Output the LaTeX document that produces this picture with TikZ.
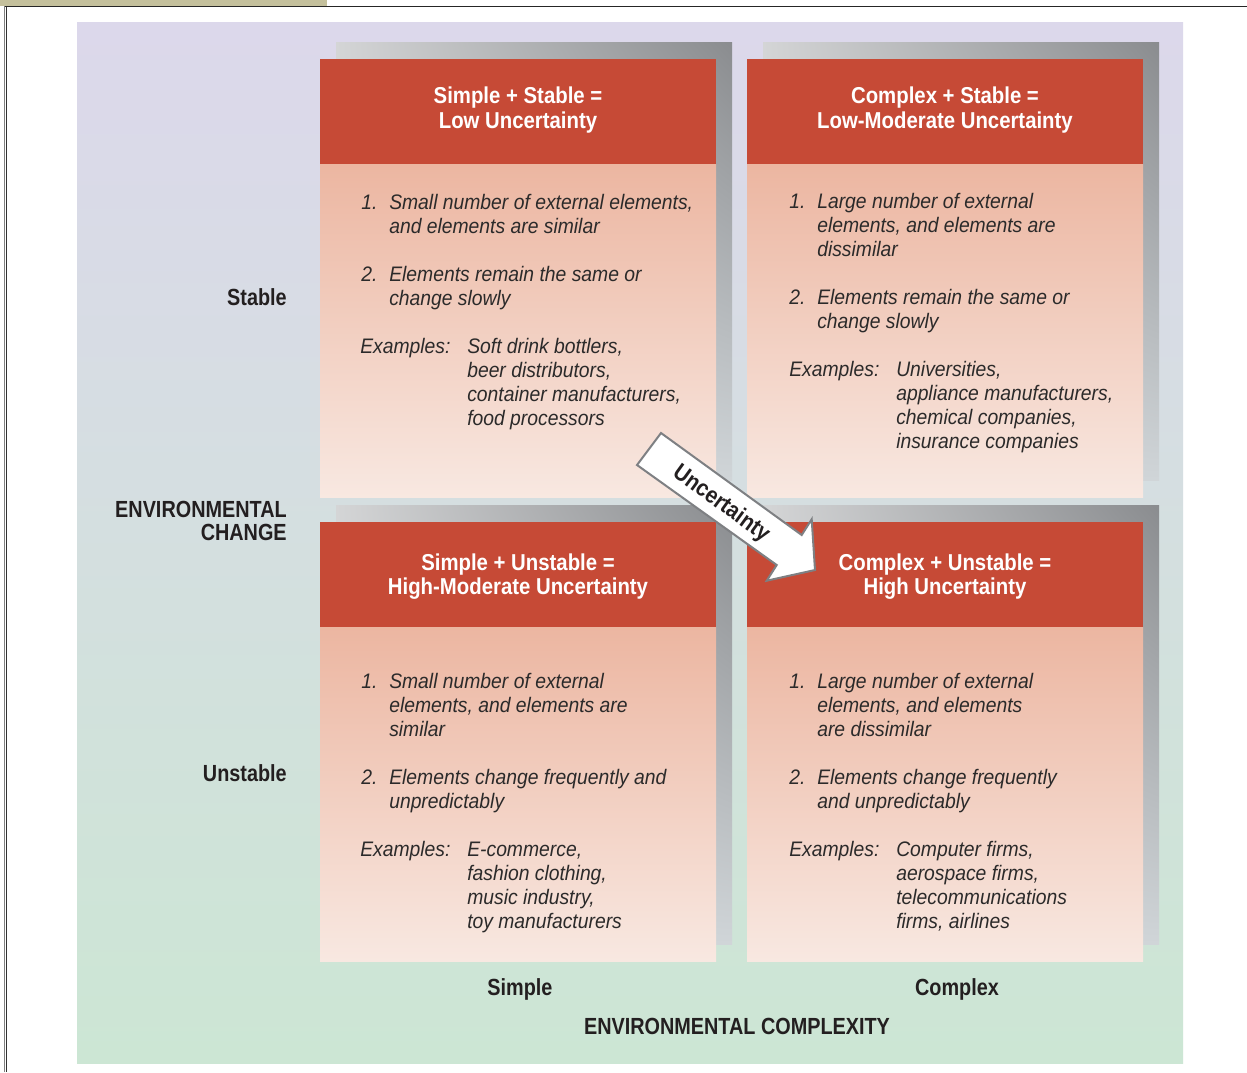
\documentclass[tikz,border=0pt]{standalone}
\usepackage{fontspec}
\usetikzlibrary{shadings}
\setmainfont{Liberation Sans}
\newfontfamily\bodyf[FakeStretch=0.92]{Liberation Sans}
\newfontfamily\headf[FakeStretch=0.885]{Liberation Sans}
\newfontfamily\labf[FakeStretch=0.85]{Liberation Sans}
\definecolor{tanbar}{HTML}{C4C09C}
\definecolor{paneltop}{HTML}{DCD8EB}
\definecolor{panelbot}{HTML}{CCE6D4}
\definecolor{hdr}{HTML}{C64A36}
\definecolor{bodytop}{HTML}{ECB6A1}
\definecolor{bodymid}{HTML}{F5D9CD}
\definecolor{bodybot}{HTML}{F8E8E1}
\definecolor{shUR}{HTML}{8A8C8F}
\definecolor{shUL}{HTML}{D4D5D6}
\definecolor{shLL}{HTML}{D2D8DB}
\definecolor{shLR}{HTML}{D0D5D8}
\definecolor{bodygray}{HTML}{2B2A2A}
\definecolor{labblack}{HTML}{231F20}
\definecolor{arrowgray}{HTML}{7E8083}
\newcommand\bodylines[4]{%
  \foreach \t [count=\i from 0] in {#4}
    \node[bodytext, name=#1-\i] at (#2, #3+24*\i) {\t};}
\newcommand\quadbox[4]{%
  \shade[upper left=shUL, upper right=shUR, lower left=shLL, lower right=shLR]
    (#1+16,#2-17) rectangle (#3+16,#4-17);
  \fill[hdr] (#1,#2) rectangle (#3,#2+105);
  \shade[top color=bodytop, middle color=bodymid, bottom color=bodybot]
    (#1,#2+105) rectangle (#3,#4);}
\begin{document}
\begin{tikzpicture}[x=0.75pt, y=-0.75pt,
  bodytext/.style={anchor=base west, inner sep=0pt, text=bodygray,
    font=\bodyf\itshape\fontsize{15.75pt}{18pt}\selectfont},
  headtext/.style={anchor=base, inner sep=0pt, text=white,
    font=\headf\bfseries\fontsize{17.25pt}{20pt}\selectfont},
  labtext/.style={inner sep=0pt, text=labblack,
    font=\labf\bfseries\fontsize{17.5pt}{20pt}\selectfont}]
\useasboundingbox (0,0) rectangle (1247,1072);
\fill[white] (0,0) rectangle (1247,1072);
% frame
\fill[tanbar] (0,0) rectangle (327,6);
\draw[line width=1.1pt, black!85] (4.5,6.5) -- (1247,6.5);
\draw[line width=0.8pt, gray] (4.5,6) -- (4.5,1072);
\draw[line width=0.6pt, black!80] (6.3,7) -- (6.3,1072);
% panel
\shade[top color=paneltop, bottom color=panelbot] (77,22) rectangle (1183,1063);
% boxes
\quadbox{320}{59}{716}{497}
\quadbox{747}{59}{1143}{497}
\quadbox{320}{522}{716}{961}
\quadbox{747}{522}{1143}{961}
% headers
\node[headtext] (h1a) at (518,103) {Simple + Stable =};
\node[headtext] (h1b) at (518,128) {Low Uncertainty};
\node[headtext] (h2a) at (945,103) {Complex + Stable =};
\node[headtext] (h2b) at (945,128) {Low-Moderate Uncertainty};
\node[headtext] (h3a) at (518,570) {Simple + Unstable =};
\node[headtext] (h3b) at (518,594) {High-Moderate Uncertainty};
\node[headtext] (h4a) at (945,570) {Complex + Unstable =};
\node[headtext] (h4b) at (945,594) {High Uncertainty};
% top-left body
\node[bodytext] (tln1) at (361,209) {1.};
\bodylines{tlp1}{389}{209}{{Small number of external elements,},{and elements are similar}}
\node[bodytext] (tln2) at (361,281) {2.};
\bodylines{tlp2}{389}{281}{{Elements remain the same or},{change slowly}}
\node[bodytext] (tlex) at (360,353) {Examples:};
\bodylines{tlp3}{467}{353}{{Soft drink bottlers,},{beer distributors,},{container manufacturers,},{food processors}}
% top-right body
\node[bodytext] (trn1) at (789,208) {1.};
\bodylines{trp1}{817}{208}{{Large number of external},{elements, and elements are},{dissimilar}}
\node[bodytext] (trn2) at (789,304) {2.};
\bodylines{trp2}{817}{304}{{Elements remain the same or},{change slowly}}
\node[bodytext] (trex) at (789,376) {Examples:};
\bodylines{trp3}{896}{376}{{Universities,},{appliance manufacturers,},{chemical companies,},{insurance companies}}
% bottom-left body
\node[bodytext] (bln1) at (361,688) {1.};
\bodylines{blp1}{389}{688}{{Small number of external},{elements, and elements are},{similar}}
\node[bodytext] (bln2) at (361,784) {2.};
\bodylines{blp2}{389}{784}{{Elements change frequently and},{unpredictably}}
\node[bodytext] (blex) at (360,856) {Examples:};
\bodylines{blp3}{467}{856}{{E-commerce,},{fashion clothing,},{music industry,},{toy manufacturers}}
% bottom-right body
\node[bodytext] (brn1) at (789,688) {1.};
\bodylines{brp1}{817}{688}{{Large number of external},{elements, and elements},{are dissimilar}}
\node[bodytext] (brn2) at (789,784) {2.};
\bodylines{brp2}{817}{784}{{Elements change frequently},{and unpredictably}}
\node[bodytext] (brex) at (789,856) {Examples:};
\bodylines{brp3}{896}{856}{{Computer firms,},{aerospace firms,},{telecommunications},{firms, airlines}}
% axis labels
\node[labtext, anchor=base east] (stable) at (287,305) {Stable};
\node[labtext, anchor=base east] (env1) at (287,517) {ENVIRONMENTAL};
\node[labtext, anchor=base east] (env2) at (287,540) {CHANGE};
\node[labtext, anchor=base east] (unstable) at (287,781) {Unstable};
\node[labtext, anchor=base] (simple) at (520,995) {Simple};
\node[labtext, anchor=base] (complex) at (957,995) {Complex};
\node[labtext, anchor=base] (envc) at (737,1034) {ENVIRONMENTAL COMPLEXITY};
% uncertainty arrow
\draw[draw=arrowgray, line width=1.5pt, fill=white, line join=miter]
  (661,433) -- (801.7,535) -- (811.7,519.3) -- (815,570) -- (766.7,580.7)
  -- (776.7,565) -- (637,465) -- cycle;
\node[rotate=-36, inner sep=0pt, text=labblack,
  font=\headf\bfseries\fontsize{17.5pt}{20pt}\selectfont] (unc) at (721,504) {Uncertainty};
\end{tikzpicture}
\end{document}
